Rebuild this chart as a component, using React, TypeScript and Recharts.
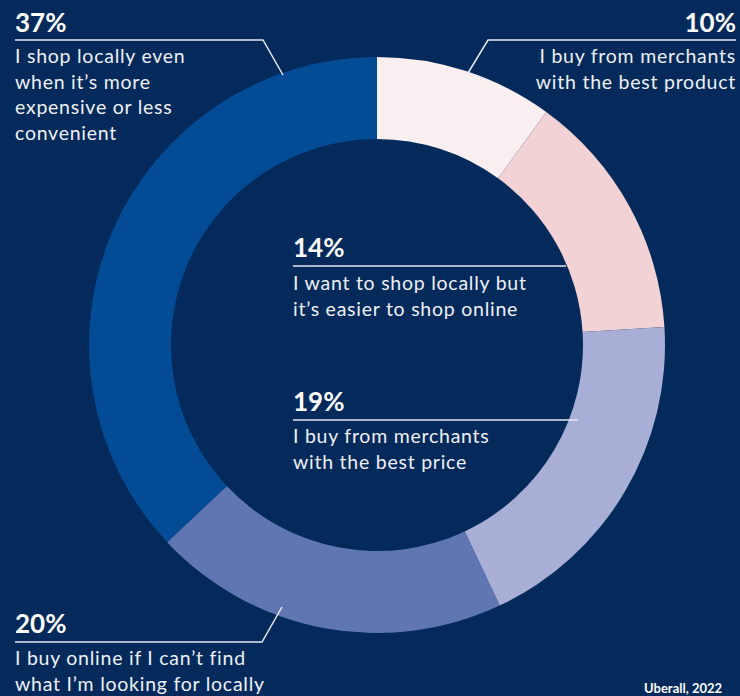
import React from "react";
import { PieChart, Pie, Cell } from "recharts";

// survey answers, clockwise from 12 o'clock
const categories = [
  "I buy from merchants with the best product",
  "I want to shop locally but it’s easier to shop online",
  "I buy from merchants with the best price",
  "I buy online if I can’t find what I’m looking for locally",
  "I shop locally even when it’s more expensive or less convenient",
];
const shares = [10, 14, 19, 20, 37];
const percentLabels = ["10%", "14%", "19%", "20%", "37%"];
const colors = ["#f9eef0", "#f2d2d4", "#a8aed5", "#5f76b3", "#034c95"];

// wrapped label lines, same order as categories
const labelLines = [
  ["I buy from merchants", "with the best product"],
  ["I want to shop locally but", "it’s easier to shop online"],
  ["I buy from merchants", "with the best price"],
  ["I buy online if I can’t find", "what I’m looking for locally"],
  ["I shop locally even", "when it’s more", "expensive or less", "convenient"],
];

const source = "Uberall, 2022";

const chartData = categories.map((name, i) => ({
  name,
  value: shares[i],
}));

const BG = "#032a5a";
const FONT = "Lato, 'Open Sans', sans-serif";

// annotation layout (x, baseline of percent, leader polyline, anchor, first text baseline)
const callouts = [
  { x: 736, py: 32, line: "736,40 488,40 468,73", anchor: "end", ty: 63 },
  { x: 293, py: 257, line: "293,266 566,266", anchor: "start", ty: 290 },
  { x: 293, py: 411, line: "293,420 578,420", anchor: "start", ty: 443 },
  { x: 15, py: 633, line: "15,642 262,642 282,607", anchor: "start", ty: 665 },
  { x: 15, py: 32, line: "15,40 263,40 283,75", anchor: "start", ty: 63 },
];

const App: React.FC = () => {
  return (
    <div
      style={{
        position: "absolute",
        left: 0,
        top: 0,
        width: 740,
        height: 696,
        background: BG,
        overflow: "hidden",
      }}
    >
      <PieChart width={740} height={696} margin={{ top: 0, right: 0, bottom: 0, left: 0 }}>
        <Pie
          data={chartData}
          dataKey="value"
          nameKey="name"
          cx={377}
          cy={345}
          innerRadius={206}
          outerRadius={288}
          startAngle={90}
          endAngle={-270}
          stroke="none"
          isAnimationActive={false}
        >
          {chartData.map((d, i) => (
            <Cell key={d.name} fill={colors[i]} />
          ))}
        </Pie>
      </PieChart>
      <svg
        width={740}
        height={696}
        style={{ position: "absolute", left: 0, top: 0, pointerEvents: "none" }}
        fontFamily={FONT}
      >
        {callouts.map((c, i) => (
          <g key={categories[i]}>
            <polyline points={c.line} fill="none" stroke="#e6e9f0" strokeWidth={1.5} />
            <text
              x={c.x}
              y={c.py}
              textAnchor={c.anchor as "start" | "end"}
              fill="#ffffff"
              fontSize={26}
              fontWeight={700}
            >
              {percentLabels[i]}
            </text>
            {labelLines[i].map((t, j) => (
              <text
                key={t}
                x={c.x}
                y={c.ty + j * 25.7}
                textAnchor={c.anchor as "start" | "end"}
                fill="#eef0f5"
                fontSize={19.5}
                letterSpacing={0.75}
              >
                {t}
              </text>
            ))}
          </g>
        ))}
        <text x={644} y={693} fill="#ffffff" fontSize={13} fontWeight={700}>
          {source}
        </text>
      </svg>
    </div>
  );
};

export default App;
